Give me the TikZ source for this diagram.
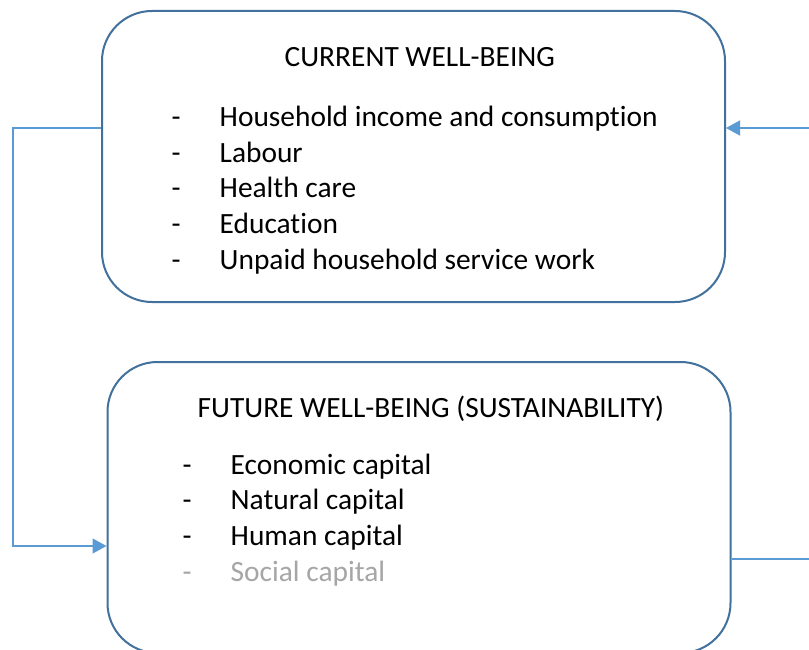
\documentclass[tikz,border=0pt]{standalone}
\usepackage{fontspec}
\setmainfont[Ligatures=NoCommon]{Carlito}
\usetikzlibrary{arrows.meta}
\definecolor{boxblue}{HTML}{41719C}
\definecolor{linkblue}{HTML}{5B9BD5}
\definecolor{softgray}{HTML}{A6A6A6}
\begin{document}
\begin{tikzpicture}[x=1pt,y=-1pt,
 panel/.style={draw=boxblue, line width=2pt, rounded corners=50pt, minimum width=623pt, minimum height=291pt, inner sep=0pt},
 conn/.style={draw=linkblue, line width=1.3pt},
 tip/.style={-{Triangle[length=14pt,width=15pt]}},
 txt/.style={anchor=base west, inner sep=0pt, font=\fontsize{29.4}{35.7}\selectfont}]
\clip (0,0) rectangle (809,650);
\fill[white] (0,0) rectangle (809,650);
% boxes
\node[panel] (top) at (413.5,156.5) {};
\node[panel] (bot) at (419,507.5) {};
% top box text
\node[txt] (ttop) at (284.5,66.5) {CURRENT WELL-BEING};
\node[txt] (d1) at (171.5,126.5) {-};
\node[txt] (i1) at (219.5,126.5) {Household income and consumption};
\node[txt] (d2) at (171.5,162.2) {-};
\node[txt] (i2) at (219.5,162.2) {Labour};
\node[txt] (d3) at (171.5,197.9) {-};
\node[txt] (i3) at (219.5,197.9) {Health care};
\node[txt] (d4) at (171.5,233.6) {-};
\node[txt] (i4) at (219.5,233.6) {Education};
\node[txt] (d5) at (171.5,269.3) {-};
\node[txt] (i5) at (219.5,269.3) {Unpaid household service work};
% bottom box text
\node[txt] (tbot) at (197.5,417.5) {FUTURE WELL-BEING (SUSTAINABILITY)};
\node[txt] (e1) at (182.5,474) {-};
\node[txt] (j1) at (230.5,474) {Economic capital};
\node[txt] (e2) at (182.5,509.7) {-};
\node[txt] (j2) at (230.5,509.7) {Natural capital};
\node[txt] (e3) at (182.5,545.4) {-};
\node[txt] (j3) at (230.5,545.4) {Human capital};
\node[txt, text=softgray] (e4) at (182.5,581.1) {-};
\node[txt, text=softgray] (j4) at (230.5,581.1) {Social capital};
% connectors
\coordinate (L1) at (13,128);
\coordinate (L2) at (13,546);
\coordinate (R1) at (815,559);
\coordinate (R2) at (815,128);
\draw[conn, tip] (top.west |- L1) -- (L1) -- (L2) -- (bot.west |- L2);
\draw[conn, tip] (bot.east |- R1) -- (R1) -- (R2) -- (top.east |- R2);
\end{tikzpicture}
\end{document}
